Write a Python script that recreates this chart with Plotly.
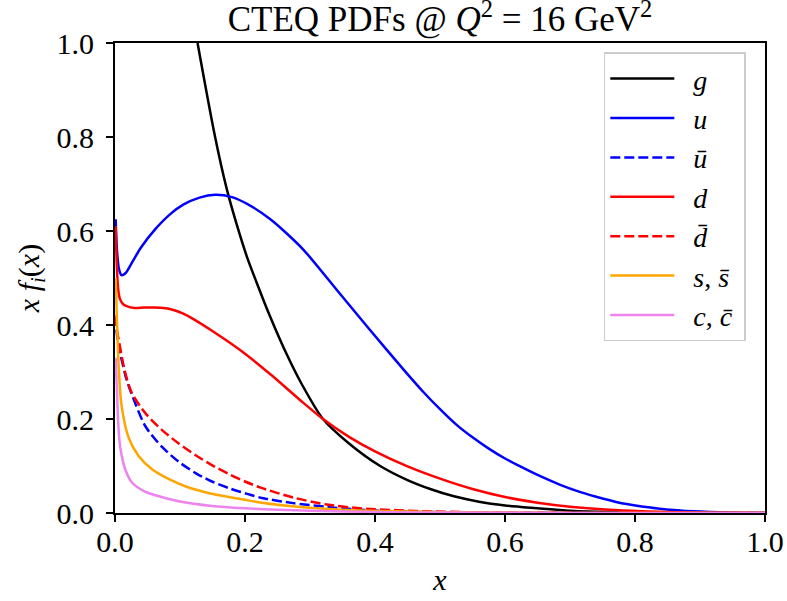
import plotly.graph_objects as go

# ---- data ----
g_x = [0.127, 0.154, 0.172, 0.187, 0.203, 0.218, 0.238, 0.26, 0.287, 0.32, 0.36, 0.408, 0.45, 0.485, 0.52, 0.56, 0.60, 0.64, 0.70, 0.76, 0.82, 0.9, 1.0]
g_y = [1.0, 0.80, 0.689, 0.615, 0.545, 0.49, 0.42, 0.35, 0.275, 0.2, 0.148, 0.1, 0.07, 0.051, 0.036, 0.024, 0.016, 0.011, 0.005, 0.002, 0.0008, 0.0001, 0.0]

u_x = [0.001, 0.003, 0.006, 0.010, 0.016, 0.025, 0.04, 0.062, 0.085, 0.105, 0.13, 0.154, 0.18, 0.208, 0.238, 0.26, 0.29, 0.341, 0.392, 0.444, 0.474, 0.5, 0.526, 0.55, 0.575, 0.6, 0.625, 0.65, 0.685, 0.715, 0.75, 0.787, 0.838, 0.89, 0.95, 1.0]
u_y = [0.625, 0.56, 0.52, 0.506, 0.51, 0.53, 0.565, 0.604, 0.636, 0.656, 0.671, 0.677, 0.672, 0.654, 0.626, 0.60, 0.56, 0.475, 0.39, 0.305, 0.258, 0.221, 0.187, 0.161, 0.137, 0.116, 0.098, 0.081, 0.06, 0.045, 0.031, 0.019, 0.009, 0.0035, 0.0007, 0.0]

ubar_x = [0.001, 0.003, 0.005, 0.008, 0.018, 0.031, 0.047, 0.072, 0.098, 0.124, 0.149, 0.175, 0.2, 0.226, 0.274, 0.326, 0.377, 0.45, 0.55, 0.7, 1.0]
ubar_y = [0.42, 0.38, 0.36, 0.34, 0.283, 0.234, 0.184, 0.141, 0.109, 0.085, 0.067, 0.053, 0.042, 0.032, 0.021, 0.013, 0.007, 0.003, 0.001, 0.0002, 0.0]

d_x = [0.001, 0.003, 0.005, 0.0077, 0.012, 0.018, 0.03, 0.045, 0.06, 0.075, 0.09, 0.105, 0.12, 0.151, 0.197, 0.24, 0.285, 0.32, 0.36, 0.40, 0.45, 0.50, 0.55, 0.60, 0.65, 0.70, 0.76, 0.81, 0.86, 0.92, 1.0]
d_y = [0.61, 0.52, 0.475, 0.455, 0.445, 0.44, 0.436, 0.437, 0.437, 0.436, 0.432, 0.424, 0.413, 0.386, 0.342, 0.294, 0.24, 0.2, 0.162, 0.131, 0.099, 0.073, 0.051, 0.034, 0.022, 0.0135, 0.007, 0.0038, 0.0018, 0.0006, 0.0]

dbar_x = [0.001, 0.003, 0.0057, 0.016, 0.026, 0.047, 0.072, 0.098, 0.124, 0.149, 0.175, 0.2, 0.224, 0.274, 0.326, 0.377, 0.45, 0.55, 0.7, 1.0]
dbar_y = [0.42, 0.39, 0.368, 0.297, 0.255, 0.212, 0.177, 0.148, 0.123, 0.102, 0.083, 0.067, 0.054, 0.033, 0.018, 0.01, 0.005, 0.0015, 0.0003, 0.0]

s_x = [0.001, 0.003, 0.0057, 0.01, 0.021, 0.036, 0.057, 0.083, 0.108, 0.149, 0.2, 0.226, 0.285, 0.35, 0.45, 0.55, 0.7, 1.0]
s_y = [0.5, 0.41, 0.31, 0.23, 0.16, 0.122, 0.093, 0.072, 0.057, 0.041, 0.028, 0.022, 0.013, 0.007, 0.003, 0.001, 0.0002, 0.0]

c_x = [0.001, 0.003, 0.005, 0.008, 0.016, 0.026, 0.047, 0.072, 0.098, 0.149, 0.2, 0.25, 0.3, 0.4, 0.5, 0.7, 1.0]
c_y = [0.33, 0.26, 0.19, 0.14, 0.092, 0.065, 0.045, 0.034, 0.025, 0.015, 0.01, 0.007, 0.005, 0.002, 0.001, 0.0002, 0.0]

tick_vals = [0.0, 0.2, 0.4, 0.6, 0.8, 1.0]

series = [
    ("<i>g</i>", g_x, g_y, "black", "solid"),
    ("<i>u</i>", u_x, u_y, "#0000ff", "solid"),
    ("<i>u\u0304</i>", ubar_x, ubar_y, "#0000ff", "10px,4px"),
    ("<i>d</i>", d_x, d_y, "#ff0000", "solid"),
    ("<i>d\u0304</i>", dbar_x, dbar_y, "#ff0000", "10px,4px"),
    ("<i>s</i>, <i>s\u0304</i>", s_x, s_y, "#ffa500", "solid"),
    ("<i>c</i>, <i>c\u0304</i>", c_x, c_y, "#ee82ee", "solid"),
]

fig = go.Figure()
for i, (name, xs, ys, col, dash) in enumerate(series):
    fig.add_trace(go.Scatter(x=xs, y=ys, mode="lines",
                             name="&nbsp;&nbsp;" + name + "&nbsp;",
                             line=dict(color=col, width=2.5, dash=dash,
                                       shape="spline", smoothing=0.8)))

FONT = "Liberation Serif"
axis_common = dict(range=[0, 1], tickvals=tick_vals, tickformat=".1f",
                   ticks="outside", ticklen=7, tickwidth=1.8, tickcolor="black",
                   showline=True, linewidth=1.8, linecolor="black", mirror=True,
                   showgrid=False, zeroline=False, automargin=False,
                   tickfont=dict(family=FONT, size=30, color="black"))

fig.update_layout(
    width=787, height=601,
    margin=dict(l=115, r=22, t=43, b=88, autoexpand=False),
    paper_bgcolor="white", plot_bgcolor="white",
    font=dict(family=FONT, size=30, color="black"),
    title=dict(text="CTEQ PDFs @ <i>Q</i><sup>2</sup> = 16 GeV<sup>2</sup>",
               x=0.5, xref="paper", xanchor="center",
               y=1 - 19 / 601, yref="container", yanchor="middle",
               font=dict(family=FONT, size=35, color="black"), automargin=False),
    xaxis=dict(**axis_common, ticklabelstandoff=-6,
               title=dict(text="<i>x</i>", standoff=12,
                          font=dict(family=FONT, size=30))),
    yaxis=dict(**axis_common, ticklabelstandoff=6,
               title=dict(text="<i>x f<sub>i</sub></i>(<i>x</i>)", standoff=8,
                          font=dict(family=FONT, size=30))),
    legend=dict(x=0.752, y=0.98, xanchor="left", yanchor="top",
                bgcolor="rgba(255,255,255,0.8)", bordercolor="#cccccc", borderwidth=1.5,
                itemwidth=64,
                font=dict(family=FONT, size=28, color="black")),
)

fig.write_html("out.html", config={"displayModeBar": False},
               post_script="document.body.style.margin='0';")
